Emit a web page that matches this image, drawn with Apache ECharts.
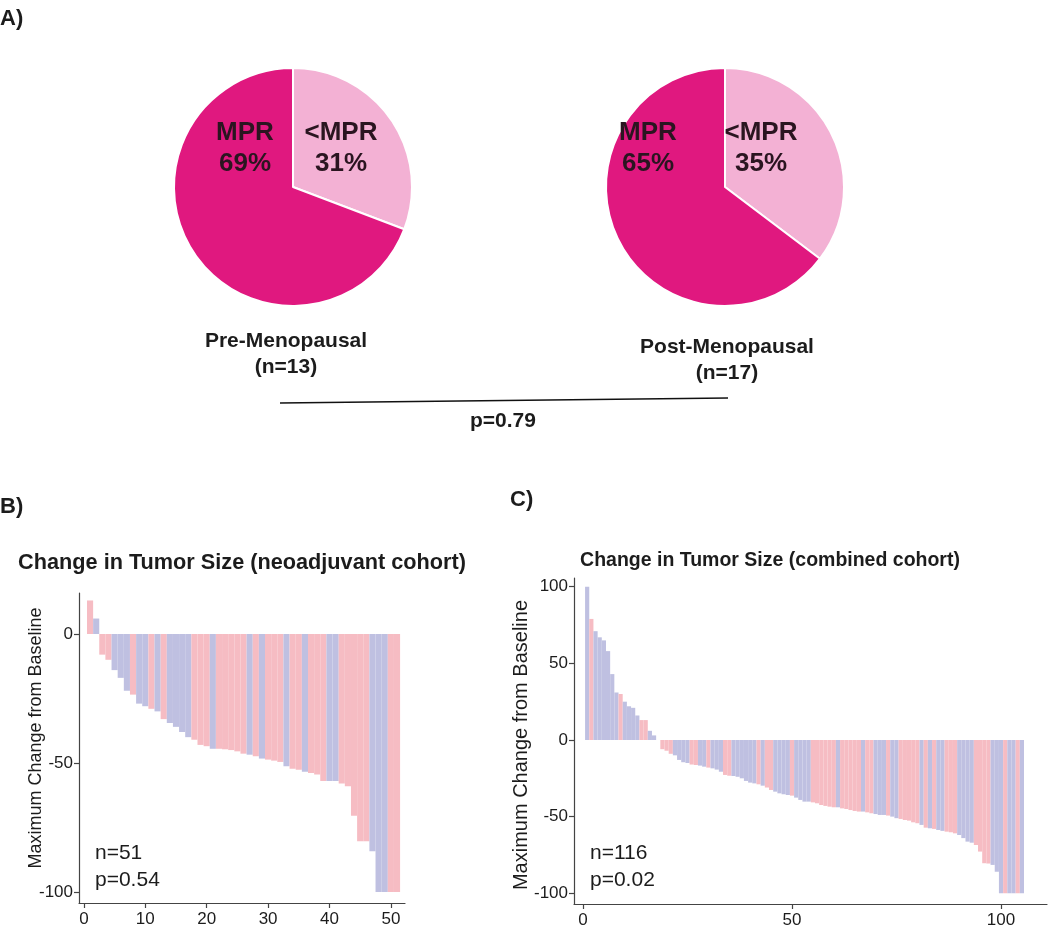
<!DOCTYPE html>
<html>
<head>
<meta charset="utf-8">
<script src="https://cdn.jsdelivr.net/npm/echarts@6/dist/echarts.min.js"></script>
<style>
html,body{margin:0;padding:0;background:#ffffff;}
#chart{width:1050px;height:929px;}
</style>
</head>
<body>
<div id="chart"></div>
<script>
// ---------- DATA ----------
const pieCategories = ['<MPR', 'MPR'];
const preCounts = [4, 9];     // n=13
const postCounts = [6, 11];   // n=17
const pieGroupNames = ['Pre-Menopausal', 'Post-Menopausal'];
const pieGroupN = ['(n=13)', '(n=17)'];
const pValueA = 'p=0.79';

const neoValues = [13, 6, -8, -10, -14, -17, -22, -23.5, -27, -28, -29, -30, -33, -34.5, -36, -38, -40, -41, -43, -43.5,
  -44.5, -44.5, -44.7, -45, -45.5, -46.4, -46.8, -47.4, -48.3, -48.7, -49.1, -49.6, -51.3, -52.2, -52.6, -53.4, -53.9, -54.5,
  -57, -57, -57, -58, -59, -70.5, -80.4, -80.4, -84.2, -100, -100, -100, -100];
const neoGroups = ['R','B','R','R','B','B','B','R','B','B','R','B','R','B','B','B','B','R','R','R','B','R','R','R','R','R',
  'B','R','B','R','R','R','B','R','R','B','R','R','R','B','B','R','R','R','R','R','B','B','B','R','R'];

const combValues = [100, 79, 71, 67, 65, 58, 43, 31, 30, 25, 22, 21, 16, 13, 13, 6, 3, 0,
  -6, -7, -9, -10, -13, -14.5, -15, -16, -16.3, -16.7, -17.4, -18, -18.5, -19.3, -20.7, -22.8, -23.3, -23.5, -24, -25,
  -26.7, -27.8, -28.3, -28.9, -29.8, -31,
  -32.6, -33.7, -34.8, -35.4, -35.9, -36.3, -37.6, -39.1, -40.2, -40.2, -40.7, -41.3, -42.4, -43, -43.5, -43.9, -43.9,
  -44.6, -45, -45.7, -46.3, -46.7, -46.7, -47.2, -47.8, -48.3, -48.9, -48.9, -49.3, -50, -51, -51.5, -52.2, -52.6,
  -53.7, -54.3, -55.4, -57.2, -57.6, -58, -58.7, -59.3, -59.8, -60.2, -60.9, -62, -64, -66.3, -67, -68.5, -72.8,
  -80.4, -80.6, -81.5, -85.9, -100, -100, -100, -100, -100, -100];
const combGroups = ['B','R','B','B','B','B','B','B','R','B','B','B','B','R','R','B','B','B',
  'R','R','R','B','B','B','B','R','R','B','B','R','B','B','B','R','R','B','B','B','B','B','B','R','B','R',
  'R','B','B','B','B','R','B','B','B','B','R','R','R','R','R','R','B','R','R','R','R','R','B','R','R','B','B','B','R','B','B','R','R','R',
  'R','R','B','R','B','R','B','B','R','R','R','B','B','B','B','R','R','R','R','B','B','B','R','B','B','R','B'];

const neoXTicks = [0, 10, 20, 30, 40, 50];
const neoYTicks = [-100, -50, 0];
const combXTicks = [0, 50, 100];
const combYTicks = [-100, -50, 0, 50, 100];

const titleB = 'Change in Tumor Size (neoadjuvant cohort)';
const titleC = 'Change in Tumor Size (combined cohort)';
const yAxisTitle = 'Maximum Change from Baseline';
const statsB = ['n=51', 'p=0.54'];
const statsC = ['n=116', 'p=0.02'];

// ---------- STYLE ----------
const FONT = '"Liberation Sans", Arial, Helvetica, sans-serif';
const BAR_COLORS = { R: '#f6bcc3', B: '#bfc0e1' };
const PIE_COLORS = ['#f3b1d4', '#e0187f'];
const TEXT = '#1c1c1c';
const AXIS = '#444444';

const gB = { left: 79, top: 593, width: 326, height: 310, xmin: -0.8, xmax: 52.3, ymin: -104.3, ymax: 15.9 };
const gC = { left: 574, top: 578, width: 473, height: 326, xmin: -2.15, xmax: 111, ymin: -107, ymax: 105.7 };

function barData(values, groups) {
  return values.map((v, i) => ({ value: [i + 1, v], itemStyle: { color: BAR_COLORS[groups[i]] } }));
}
function pct(counts) {
  const t = counts.reduce((a, b) => a + b, 0);
  return counts.map(c => Math.round(c / t * 100) + '%');
}
function txt(text, x, y, size, opts) {
  opts = opts || {};
  return {
    type: 'text', x: x, y: y, z: 100, rotation: opts.rotation || 0, silent: true,
    style: {
      text: text, fill: opts.color || TEXT,
      font: (opts.bold ? 'bold ' : '') + size + 'px ' + FONT,
      align: opts.align || 'center', verticalAlign: 'middle',
      textAlign: opts.align || 'center', textVerticalAlign: 'middle',
      lineHeight: opts.lineHeight || size * 1.2
    }
  };
}
function xAxisCfg(gi, g, ticks) {
  return {
    type: 'value', gridIndex: gi, min: g.xmin, max: g.xmax,
    axisLine: { show: true, onZero: false, lineStyle: { color: AXIS, width: 1.2 } },
    axisTick: { show: true, length: 5, customValues: ticks, lineStyle: { color: AXIS, width: 1.2 } },
    axisLabel: { customValues: ticks, fontSize: 17, color: TEXT, fontFamily: FONT, margin: 8 },
    splitLine: { show: false }
  };
}
function yAxisCfg(gi, g, ticks) {
  return {
    type: 'value', gridIndex: gi, min: g.ymin, max: g.ymax,
    axisLine: { show: true, onZero: false, lineStyle: { color: AXIS, width: 1.2 } },
    axisTick: { show: true, length: 5, customValues: ticks, lineStyle: { color: AXIS, width: 1.2 } },
    axisLabel: { customValues: ticks, fontSize: 17, color: TEXT, fontFamily: FONT, margin: 6 },
    splitLine: { show: false }
  };
}

const prePct = pct(preCounts), postPct = pct(postCounts);
const chart = echarts.init(document.getElementById('chart'));

const LBL = '#2a1520';
const graphics = [
  txt('A)', 0, 19, 22, { bold: true, align: 'left' }),
  txt(pieCategories[1] + '\n' + prePct[1], 245, 148, 26, { bold: true, lineHeight: 31, color: LBL }),
  txt(pieCategories[0] + '\n' + prePct[0], 341, 148, 26, { bold: true, lineHeight: 31, color: LBL }),
  txt(pieCategories[1] + '\n' + postPct[1], 648, 148, 26, { bold: true, lineHeight: 31, color: LBL }),
  txt(pieCategories[0] + '\n' + postPct[0], 761, 148, 26, { bold: true, lineHeight: 31, color: LBL }),
  txt(pieGroupNames[0] + '\n' + pieGroupN[0], 286, 354, 21, { bold: true, lineHeight: 26 }),
  txt(pieGroupNames[1] + '\n' + pieGroupN[1], 727, 360, 21, { bold: true, lineHeight: 26 }),
  { type: 'line', z: 100, silent: true, shape: { x1: 280, y1: 403, x2: 728, y2: 398 }, style: { stroke: '#111', lineWidth: 1.5 } },
  txt(pValueA, 503, 421, 21, { bold: true }),
  txt('B)', 0, 507, 22, { bold: true, align: 'left' }),
  txt(titleB, 242, 563, 21.7, { bold: true }),
  txt(yAxisTitle, 36, 738, 18, { rotation: Math.PI / 2 }),
  txt(statsB[0], 95, 853, 21, { align: 'left' }),
  txt(statsB[1], 95, 880, 21, { align: 'left' }),
  txt('C)', 510, 500, 22, { bold: true, align: 'left' }),
  txt(titleC, 770, 561, 19.5, { bold: true }),
  txt(yAxisTitle, 521, 745, 20, { rotation: Math.PI / 2 }),
  txt(statsC[0], 590, 853, 21, { align: 'left' }),
  txt(statsC[1], 590, 880, 21, { align: 'left' })
];

function pieSeries(counts, cx) {
  return {
    type: 'pie', center: [cx, 187], radius: 119, startAngle: 90, clockwise: true, z: 2,
    label: { show: false }, labelLine: { show: false }, silent: true,
    itemStyle: { borderColor: '#ffffff', borderWidth: 2 },
    data: counts.map((c, i) => ({ name: pieCategories[i], value: c, itemStyle: { color: PIE_COLORS[i] } }))
  };
}

chart.setOption({
  animation: false,
  backgroundColor: '#ffffff',
  textStyle: { fontFamily: FONT },
  grid: [
    { left: gB.left, top: gB.top, width: gB.width, height: gB.height, containLabel: false },
    { left: gC.left, top: gC.top, width: gC.width, height: gC.height, containLabel: false }
  ],
  xAxis: [xAxisCfg(0, gB, neoXTicks), xAxisCfg(1, gC, combXTicks)],
  yAxis: [yAxisCfg(0, gB, neoYTicks), yAxisCfg(1, gC, combYTicks)],
  series: [
    pieSeries(preCounts, 293),
    pieSeries(postCounts, 725),
    {
      type: 'bar', xAxisIndex: 0, yAxisIndex: 0, silent: true,
      barWidth: gB.width / (gB.xmax - gB.xmin),
      data: barData(neoValues, neoGroups)
    },
    {
      type: 'bar', xAxisIndex: 1, yAxisIndex: 1, silent: true,
      barWidth: gC.width / (gC.xmax - gC.xmin),
      data: barData(combValues, combGroups)
    }
  ],
  graphic: { elements: graphics }
});
</script>
</body>
</html>
